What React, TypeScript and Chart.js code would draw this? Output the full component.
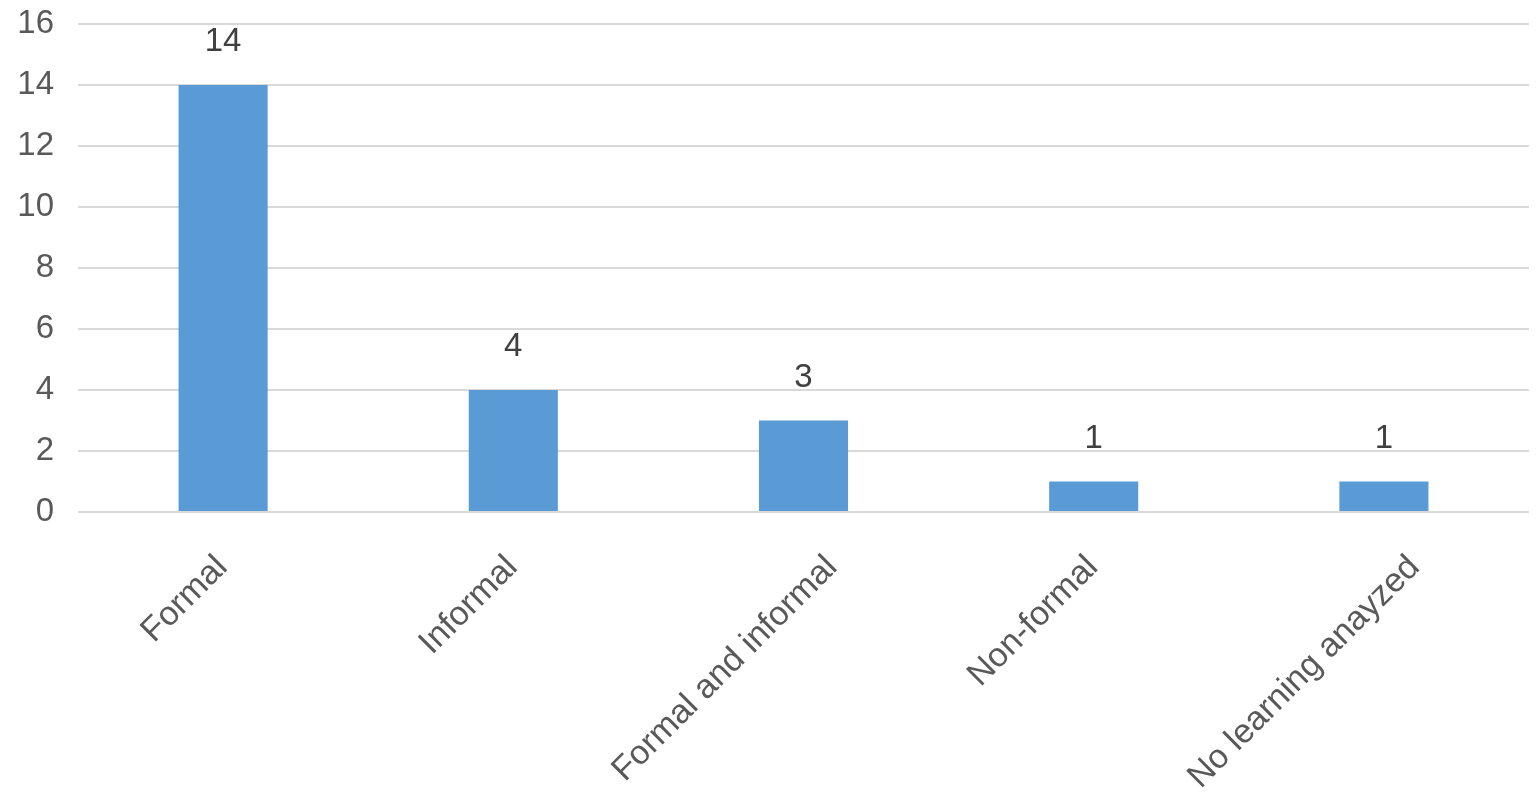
import React, { useEffect, useRef } from "react";
import { Chart, registerables } from "chart.js";

Chart.register(...registerables);

const categories = ["Formal", "Informal", "Formal and informal", "Non-formal", "No learning anayzed"];
const counts = [14, 4, 3, 1, 1];
const yTicks = [0, 2, 4, 6, 8, 10, 12, 14, 16];

const FONT = "'Liberation Sans', Arial, sans-serif";

const labelsPlugin = {
  id: "customLabels",
  afterDatasetsDraw(chart: any) {
    const ctx = chart.ctx;
    const meta = chart.getDatasetMeta(0);
    ctx.save();
    // value labels
    ctx.fillStyle = "#404040";
    ctx.font = `33px ${FONT}`;
    ctx.textAlign = "center";
    ctx.textBaseline = "alphabetic";
    meta.data.forEach((bar: any, i: number) => {
      ctx.fillText(String(counts[i]), bar.x, bar.y - 34);
    });
    // rotated category labels
    const xScale = chart.scales.x;
    ctx.fillStyle = "#595959";
    ctx.font = `34px ${FONT}`;
    ctx.textAlign = "right";
    ctx.textBaseline = "top";
    const top = chart.chartArea.bottom + 38;
    categories.forEach((c, i) => {
      const w = ctx.measureText(c).width;
      const off = Math.max(4, (w - 150) * 0.22) - 17;
      const x = xScale.getPixelForValue(i) + off;
      ctx.save();
      ctx.translate(x, top);
      ctx.rotate(-Math.PI / 4);
      ctx.fillText(c, 0, 0);
      ctx.restore();
    });
    ctx.restore();
  },
};

export default function App() {
  const ref = useRef<HTMLCanvasElement | null>(null);
  useEffect(() => {
    if (!ref.current) return;
    const chart = new Chart(ref.current, {
      type: "bar",
      data: {
        labels: categories,
        datasets: [
          {
            data: counts,
            backgroundColor: "#5b9bd5",
            borderWidth: 0,
            barPercentage: 0.307,
            categoryPercentage: 1,
          },
        ],
      },
      options: {
        animation: false,
        responsive: true,
        maintainAspectRatio: false,
        layout: { padding: { top: 24, right: 7, bottom: 0, left: 0 } },
        plugins: { legend: { display: false }, tooltip: { enabled: false } },
        scales: {
          x: {
            grid: { display: false },
            border: { display: false },
            ticks: { display: false },
            afterFit: (s: any) => {
              s.height = 293;
              s.paddingLeft = 0;
              s.paddingRight = 0;
            },
          },
          y: {
            min: 0,
            max: 16,
            afterBuildTicks: (s: any) => {
              s.ticks = yTicks.map((v) => ({ value: v }));
            },
            grid: { color: "#d9d9d9", lineWidth: 2, drawTicks: false },
            border: { display: false },
            ticks: {
              color: "#595959",
              font: { family: FONT, size: 33 },
              padding: 24,
            },
            afterFit: (s: any) => {
              s.width = 78;
              s.paddingTop = 0;
              s.paddingBottom = 0;
            },
          },
        },
      },
      plugins: [labelsPlugin],
    });
    return () => chart.destroy();
  }, []);
  return (
    <div style={{ position: "absolute", left: 0, top: 0, width: 1536, height: 805, background: "#fff" }}>
      <canvas ref={ref} />
    </div>
  );
}
